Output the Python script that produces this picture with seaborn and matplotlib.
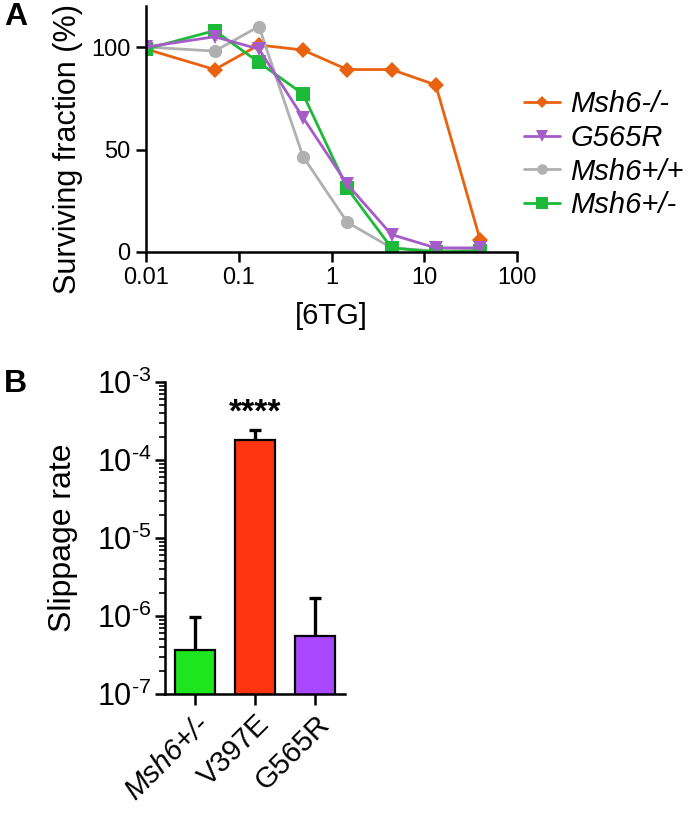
import numpy as np
import pandas as pd
import matplotlib
matplotlib.use("Agg")
import matplotlib.pyplot as plt
import seaborn as sns
from matplotlib.lines import Line2D

sns.set_theme(style="ticks")
plt.rcParams['font.family'] = ['Liberation Sans', 'DejaVu Sans']
plt.rcParams['mathtext.fontset'] = 'custom'
plt.rcParams['mathtext.rm'] = 'Liberation Sans'
plt.rcParams['mathtext.it'] = 'Liberation Sans:italic'
for k in ['text.color', 'axes.labelcolor', 'xtick.color', 'ytick.color', 'axes.edgecolor']:
    plt.rcParams[k] = 'black'

# ---------------- data: panel A ----------------
dose = [0.01, 0.055, 0.165, 0.494, 1.48, 4.44, 13.3, 40]
msh6_null = [99, 89, 101, 98.5, 89, 89, 81.5, 6]
g565r = [100, 105, 99, 65.5, 33, 8.5, 2, 2]
msh6_wt = [100, 98, 110, 46.5, 14.5, 2, 0.5, 1]
msh6_het = [99, 108, 92.5, 77, 31, 2, 0, 0.5]
series_names = ["Msh6-/-", "G565R", "Msh6+/+", "Msh6+/-"]
xticks_a = [0.01, 0.1, 1, 10, 100]
xtick_labels_a = ["0.01", "0.1", "1", "10", "100"]

# ---------------- data: panel B ----------------
groups = ["Msh6+/-", "V397E", "G565R"]
rate = [3.7e-7, 1.82e-4, 5.6e-7]
rate_err_top = [9.8e-7, 2.44e-4, 1.72e-6]
ytick_labels_b = [r"$10^{\text{-7}}$", r"$10^{\text{-6}}$", r"$10^{\text{-5}}$",
                  r"$10^{\text{-4}}$", r"$10^{\text{-3}}$"]

colors_a = {"Msh6-/-": "#E8620F", "G565R": "#A65CC8", "Msh6+/+": "#B0B0B0", "Msh6+/-": "#1DBA3A"}
markers_a = {"Msh6-/-": "D", "G565R": "v", "Msh6+/+": "o", "Msh6+/-": "s"}
msizes = {"Msh6-/-": 8, "G565R": 10, "Msh6+/+": 9.5, "Msh6+/-": 10}
bar_colors = ["#1EE61E", "#FF3512", "#AA48FF"]

fig = plt.figure(figsize=(6.91, 8.14), dpi=100)
axA = fig.add_axes([146/691, 1-252/814, (517-146)/691, (252-6)/814])
axB = fig.add_axes([165/691, 1-694/814, (345-165)/691, (694-382)/814])

values = {"Msh6-/-": msh6_null, "G565R": g565r, "Msh6+/+": msh6_wt, "Msh6+/-": msh6_het}
draw_order = ["Msh6-/-", "Msh6+/+", "Msh6+/-", "G565R"]
for name in draw_order:
    df = pd.DataFrame({"dose": dose, "surv": values[name]})
    sns.lineplot(data=df, x="dose", y="surv", ax=axA, color=colors_a[name],
                 marker=markers_a[name], markersize=msizes[name], markeredgewidth=0,
                 linewidth=2, estimator=None, sort=False)

axA.set_xscale("log")
axA.set_xlim(0.01, 100)
axA.set_ylim(0, 120)
axA.set_xticks(xticks_a)
axA.set_xticklabels(xtick_labels_a)
axA.xaxis.set_minor_locator(matplotlib.ticker.NullLocator())
axA.set_yticks([0, 50, 100])
axA.set_yticklabels(["0", "50", "100"])
axA.tick_params(axis="both", labelsize=17, width=1.8, length=7, color="black", pad=4)
axA.set_xlabel("[6TG]", fontsize=21)
axA.set_ylabel("Surviving fraction (%)", fontsize=22)
axA.xaxis.set_label_coords(0.5, -0.203)
axA.yaxis.set_label_coords(-0.17, 0.419)
for s in ["left", "bottom"]:
    axA.spines[s].set_linewidth(1.8)
sns.despine(ax=axA)

handles = [Line2D([0], [0], color=colors_a[n], marker=markers_a[n], markersize=msizes[n]*0.8,
                  markeredgewidth=0, linewidth=2) for n in series_names]
leg = fig.legend(handles, series_names, loc="center left", bbox_to_anchor=(0.741, 0.810),
                 frameon=False, prop={"size": 21, "style": "italic"}, handlelength=1.24,
                 handletextpad=0.35, labelspacing=0.2, borderaxespad=0, borderpad=0.4)

# ---------------- panel B ----------------
dfb = pd.DataFrame({"group": groups, "rate": rate})
sns.barplot(data=dfb, x="group", y="rate", hue="group", palette=bar_colors, ax=axB,
            edgecolor="black", linewidth=1.6, width=0.67, legend=False, errorbar=None,
            saturation=1)
axB.set_yscale("log")
axB.set_ylim(1e-7, 1e-3)
axB.set_xlim(-0.5, 2.5)
lower = np.zeros(len(rate))
upper = np.array(rate_err_top) - np.array(rate)
eb = axB.errorbar(range(len(groups)), rate, yerr=[lower, upper], fmt="none", ecolor="black",
                  elinewidth=2.4, capsize=4.5, capthick=2.4, zorder=1)
eb[1][0].set_visible(False)
axB.text(1, 4.0e-4, "****", ha="center", va="center", fontsize=24, fontweight="bold")
axB.set_ylabel("Slippage rate", fontsize=23)
axB.yaxis.set_label_coords(-0.483, 0.5)
axB.set_xlabel("")
axB.set_yticks([1e-7, 1e-6, 1e-5, 1e-4, 1e-3])
axB.set_yticklabels(ytick_labels_b)
axB.yaxis.set_minor_locator(matplotlib.ticker.LogLocator(base=10, subs=np.arange(2, 10)))
axB.yaxis.set_minor_formatter(matplotlib.ticker.NullFormatter())
axB.tick_params(axis="y", which="major", labelsize=22, width=1.8, length=7, color="black", pad=3)
axB.tick_params(axis="y", which="minor", width=1.2, length=4, color="black")
axB.tick_params(axis="x", which="major", labelsize=21, width=1.8, length=8, color="black")
for lab in axB.get_xticklabels():
    lab.set_rotation(45)
    lab.set_ha("right")
    lab.set_rotation_mode("anchor")
    if lab.get_text().startswith("Msh6"):
        lab.set_style("italic")
for s in ["left", "bottom"]:
    axB.spines[s].set_linewidth(1.8)
sns.despine(ax=axB)

fig.text(0.006, 0.979, "A", fontsize=23, fontweight="bold", va="center")
fig.text(0.006, 0.528, "B", fontsize=23, fontweight="bold", va="center")

fig.savefig("out.png", dpi=100)
